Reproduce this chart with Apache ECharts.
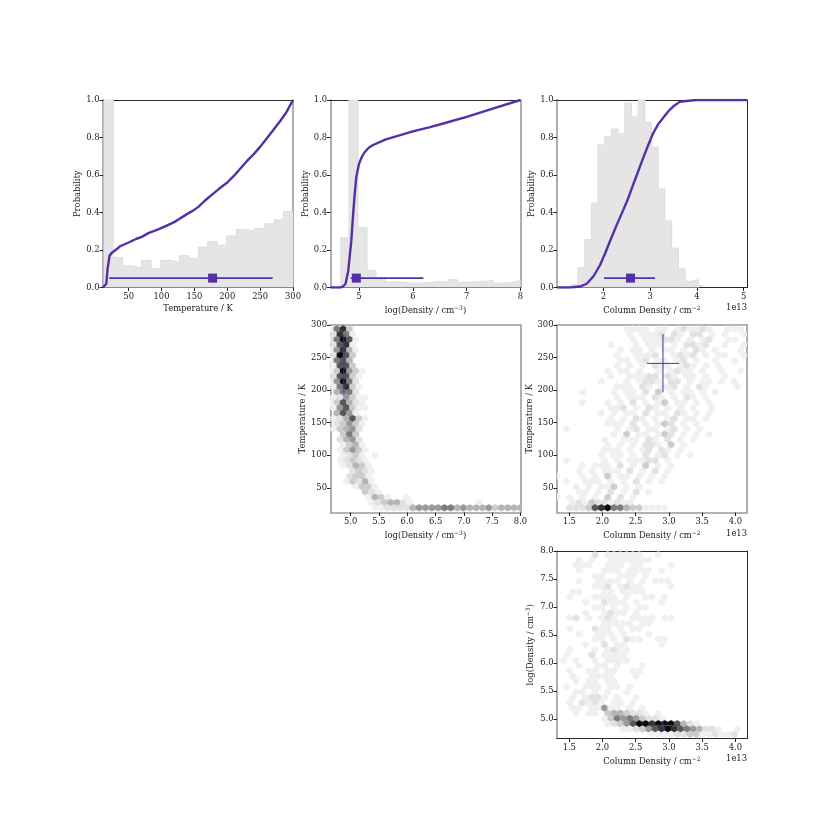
<!DOCTYPE html>
<html>
<head>
<meta charset="utf-8">
<style>
  html, body { margin: 0; padding: 0; background: #fff; }
  #chart { width: 830px; height: 830px; }
</style>
<script src="https://cdn.jsdelivr.net/npm/echarts@6/dist/echarts.min.js"></script>
</head>
<body>
<div id="chart"></div>
<script>
// histogram bin edges and heights (probability axis, first bars run off the top)
const tempEdges = [12, 26.4, 40.8, 55.2, 69.6, 84, 98.4, 112.8, 127.2, 141.6, 156, 170.4, 184.8, 199.2, 213.6, 228, 242.4, 256.8, 271.2, 285.6, 300];
const tempHist = [1.9, 0.16, 0.115, 0.105, 0.145, 0.10, 0.145, 0.135, 0.17, 0.155, 0.215, 0.245, 0.225, 0.275, 0.31, 0.30, 0.315, 0.34, 0.36, 0.405];
const densEdges = [4.645, 4.813, 4.98, 5.148, 5.316, 5.484, 5.651, 5.819, 5.987, 6.155, 6.323, 6.49, 6.658, 6.826, 6.994, 7.161, 7.329, 7.497, 7.665, 7.832, 8];
const densHist = [0.265, 2.6, 0.32, 0.09, 0.045, 0.03, 0.03, 0.022, 0.022, 0.027, 0.033, 0.028, 0.042, 0.028, 0.03, 0.033, 0.037, 0.022, 0.027, 0.037];
const colEdges = [1.315, 1.458, 1.601, 1.744, 1.887, 2.03, 2.173, 2.316, 2.459, 2.602, 2.745, 2.888, 3.031, 3.174, 3.317, 3.46, 3.603, 3.746, 3.889, 4.032, 4.176];
const colHist = [0.015, 0.105, 0.255, 0.45, 0.76, 0.805, 0.845, 0.82, 0.985, 0.91, 1.05, 0.88, 0.75, 0.525, 0.355, 0.21, 0.10, 0.033, 0.042, 0.01];

// cumulative curves [value, probability]
const tempCdf = [[11, 0], [13.3, 0], [16, 0.02], [18, 0.1], [21, 0.17], [24.5, 0.185], [32, 0.205], [37, 0.22], [50, 0.24], [62, 0.26], [70, 0.27], [80, 0.29], [95, 0.31], [108, 0.33], [120, 0.35], [127, 0.365], [138, 0.39], [148, 0.41], [156, 0.43], [165, 0.46], [175, 0.49], [187, 0.525], [200, 0.56], [210, 0.595], [220, 0.635], [230, 0.675], [240, 0.71], [250, 0.75], [260, 0.795], [270, 0.84], [280, 0.885], [290, 0.935], [300, 1]];
const densCdf = [[4.47, 0], [4.65, 0], [4.7, 0.005], [4.75, 0.02], [4.8, 0.09], [4.857, 0.25], [4.89, 0.39], [4.92, 0.5], [4.95, 0.59], [5, 0.66], [5.05, 0.695], [5.1, 0.72], [5.18, 0.745], [5.26, 0.76], [5.5, 0.79], [6, 0.833], [6.32, 0.855], [6.63, 0.88], [7, 0.91], [7.44, 0.95], [8, 1]];
const colCdf = [[1.01, 0], [1.29, 0], [1.5, 0.005], [1.645, 0.02], [1.79, 0.06], [1.93, 0.12], [2.035, 0.18], [2.14, 0.245], [2.28, 0.33], [2.42, 0.41], [2.53, 0.475], [2.64, 0.55], [2.745, 0.62], [2.85, 0.69], [2.96, 0.76], [3.06, 0.82], [3.17, 0.87], [3.28, 0.905], [3.39, 0.94], [3.49, 0.965], [3.63, 0.99], [3.77, 0.995], [3.99, 1], [5.07, 1]];

// median and interval drawn at P = 0.05
const tempSummary = [20.4, 177.7, 269];
const densSummary = [4.845, 4.95, 6.195];
const colSummary = [2.014, 2.58, 3.106];

// best fit crosses: [low, mid, high]
const bestTemp = [196.5, 241, 286];
const bestDens = [4.82, 4.88, 4.935];
const bestCol = [2.67, 2.91, 3.153];

// hexbin shade levels 1-9, top row first, one char per hexagon column
const hexTempDens = [
  '1683', '2861', '26971', '2781', '15841', '2973', '1674', '1773', '139531',
  '27731', '15962', '16831', '.4662', '125311', '137421', '157311', '.4751',
  '124731', '.23531', '13452', '..363', '.2452', '..1341', '.13531', '..1231.1',
  '.12321', '..12431', '...2321', '...2331', '..13241', '....1331', '.....321',
  '......1431..1', '......1234421..........1', '.......112222455556645444534444'
];
const hexTempCol = [
  '...........1111.11.121121..111',
  '...........1.1112.21.22.1.1..1',
  '............1.111221.1.12..11',
  '........1...1.111.1.2212..1..1',
  '..........1.11.1.11.1.21.1...1',
  '.........1..1112..1212.1.11..1',
  '..........11.12.11.12.1..1..1',
  '.........1.1.1.211.121.1.1',
  '........1.11.1..1.1211.1..1..1',
  '........1..11122.21.11.1..1',
  '.......1...1.1221.22.1.11.1.1',
  '.........111.21.112.1.21....1',
  '....1....1.11.2.3.1.11.1.1',
  '.........1.111.21.1.21.1',
  '....1...1.1.2.1.13.11.1.1',
  '........112.1.21.1.1.1..1',
  '.......1.1.11.2.11.21.1.1',
  '........1.1.21.1.12.11.1',
  '........111.2.1.132.1.1',
  '.1.......1.12.11.12.1.1',
  '.........1.3.11.132.1.1.1',
  '.......1..111.21.2.1.1',
  '........1.1.1.221.3.1',
  '.......111.1.12.21.1',
  '.......1.11.1.2.12.1.1',
  '.1.....1.1.11122.1',
  '....1.111.2.1.3.1.1',
  '...1.1.111.2.1.2.1',
  '1...1.1.3.11.1.1.1',
  '.1..111.1.1.2.1.1',
  '...1.1.113.1.1',
  '...11.1.2.1.2.1',
  '1.1.1.1.3.2.1',
  '..1213221211',
  '..2223789664331111'
];
const hexDensCol = [
  '......2.111111..1',
  '...1.1..1111111',
  '...111..111.11....1',
  '...1...111.1111.1',
  '......11..111.1',
  '...1..1111.1.1.111',
  '......112.1211....1',
  '..11...11.1111',
  '..1...1111.1..11.1',
  '....1..2111.1...1',
  '......11.1.1.11',
  '....1..1211.1',
  '..12.1.121..1111.11',
  '.......11111.11',
  '..1...211.1.11',
  '...1..111.1...1',
  '......11.1.211..11',
  '....1..2.11.....1',
  '..1...1.1211',
  '.1...2.1111',
  '.1.1..1.1111',
  '...1..11.1...1',
  '..1..11.11..11',
  '..1..1111...1',
  '...1.11.11',
  '.1..111.11.1',
  '...11.1.1..1',
  '..1.1221.1..1',
  '..1.2121.11.1',
  '..11.11511.1.1',
  '...1.11.3443221.1',
  '.......1365653221',
  '........123579989997421',
  '..........1123578987654221..1',
  '...............11112233112112'
];
const hexGreys = ['#ffffff', '#f0f0f0', '#e2e2e2', '#cccccc', '#b4b4b4', '#999999', '#7c7c7c', '#585858', '#333333', '#0a0a0a'];

// tick labels
const probTicks = [0, 0.2, 0.4, 0.6, 0.8, 1];
const tempTicks = [50, 100, 150, 200, 250, 300];
const densTicks1 = [5, 6, 7, 8];
const colTicks1 = [2, 3, 4, 5];
const densTicks2 = [5, 5.5, 6, 6.5, 7, 7.5, 8];
const colTicks2 = [1.5, 2, 2.5, 3, 3.5, 4];

const tempLabel = 'Temperature / K';
const densLabel = 'log(Density / cm{sup|−3})';
const colLabel = 'Column Density / cm{sup|−2}';
const probLabel = 'Probability';

const PURPLE = '#552fa8';
const FONT = 'DejaVu Serif';
const FS = 8.4;
const DARK = { color: '#2a2a2a', width: 1 };
const GREY = { color: '#9a9a9a', width: 1.6 };

let grids = [], xAxes = [], yAxes = [], series = [];

function valueAxis(dim, grid, range, ticks, digits, name, gap, spineA, spineB) {
  const pos = dim === 'x' ? ['bottom', 'top'] : ['left', 'right'];
  const list = dim === 'x' ? xAxes : yAxes;
  list.push({
    type: 'value', gridIndex: grid, position: pos[0], min: range[0], max: range[1],
    splitLine: { show: false },
    axisLine: { show: true, onZero: false, lineStyle: spineA },
    axisTick: { show: true, length: 3.5, customValues: ticks, lineStyle: { color: '#222', width: 1 } },
    axisLabel: {
      margin: dim === 'x' ? 5 : 3.5, color: '#1a1a1a', fontFamily: FONT, fontSize: FS,
      customValues: ticks, formatter: v => v.toFixed(digits)
    },
    name: name, nameLocation: 'middle', nameGap: gap,
    nameTextStyle: {
      color: '#1a1a1a', fontFamily: FONT, fontSize: FS,
      rich: { sup: { color: '#1a1a1a', fontFamily: FONT, fontSize: 6, padding: [0, 0, 5, 0] } }
    }
  });
  // the opposite spine
  list.push({
    type: 'value', gridIndex: grid, position: pos[1], min: range[0], max: range[1],
    splitLine: { show: false },
    axisLine: { show: true, onZero: false, lineStyle: spineB },
    axisTick: { show: false }, axisLabel: { show: false }
  });
}

function addPanel(left, top, xr, yr, xt, yt, xd, yd, xn, yn, yGap, sp) {
  const g = grids.length;
  grids.push({ left: left, top: top, width: 190, height: 187.5 });
  valueAxis('x', g, xr, xt, xd, xn, 17.5, sp[0], sp[1]);
  valueAxis('y', g, yr, yt, yd, yn, yGap, sp[2], sp[3]);
  return { xAxisIndex: g * 2, yAxisIndex: g * 2 };
}

function addMarginal(ax, edges, hist, cdf, summary) {
  // stepped outline: every bin holds its height up to the next edge
  const steps = hist.map((h, i) => [edges[i], h]);
  steps.push([edges[edges.length - 1], hist[hist.length - 1]]);
  series.push(Object.assign({
    type: 'line', step: 'end', data: steps, symbol: 'none', z: 1, silent: true,
    lineStyle: { color: '#dddddd', width: 1 }, areaStyle: { color: '#e5e5e5', opacity: 1 }
  }, ax));
  series.push(Object.assign({
    type: 'line', data: cdf, symbol: 'none', z: 3, silent: true,
    lineStyle: { color: PURPLE, width: 2.4 }
  }, ax));
  series.push(Object.assign({
    type: 'line', data: [[summary[0], 0.05], [summary[2], 0.05]], symbol: 'none', z: 4, silent: true,
    lineStyle: { color: PURPLE, width: 1.6 }
  }, ax));
  series.push(Object.assign({
    type: 'scatter', data: [[summary[1], 0.05]], symbol: 'rect', symbolSize: 9, z: 5, silent: true,
    itemStyle: { color: PURPLE, opacity: 1 }
  }, ax));
}

// turn the level strings into [x, y, level] using the hexbin lattice of the panel
function hexCells(rows, x0, dx, yTop, dy) {
  const cells = [];
  rows.forEach((row, r) => {
    for (let k = 0; k < row.length; k++) {
      if (row[k] === '.') continue;
      cells.push([x0 + (k + (r % 2 ? 0.5 : 0)) * dx, yTop - r * dy, +row[k]]);
    }
  });
  return cells;
}

function renderHex(params, api) {
  const c = api.coord([api.value(0), api.value(1)]);
  const w = 3.17, h = 3.52;
  const fill = hexGreys[api.value(2)];
  return {
    type: 'polygon',
    shape: { points: [[c[0], c[1] - h], [c[0] + w, c[1] - h / 2], [c[0] + w, c[1] + h / 2], [c[0], c[1] + h], [c[0] - w, c[1] + h / 2], [c[0] - w, c[1] - h / 2]] },
    style: { fill: fill, stroke: fill, lineWidth: 0.3 }
  };
}

function addHexPanel(ax, rows, x0, dx, yTop, dy, xCross, yCross) {
  series.push(Object.assign({
    type: 'custom', data: hexCells(rows, x0, dx, yTop, dy), renderItem: renderHex, clip: true, z: 1, silent: true,
    encode: { x: 0, y: 1 }
  }, ax));
  series.push(Object.assign({
    type: 'line', data: [[xCross[1], yCross[0]], [xCross[1], yCross[2]]], symbol: 'none', z: 3, silent: true,
    lineStyle: { color: PURPLE, width: 1.5, opacity: 0.7 }
  }, ax));
  series.push(Object.assign({
    type: 'line', data: [[xCross[0], yCross[1]], [xCross[2], yCross[1]]], symbol: 'none', z: 3, silent: true,
    lineStyle: { color: PURPLE, width: 1 }
  }, ax));
}

const L = [103, 330.5, 557];
const T = [100, 325, 551];

// top row: marginals
addMarginal(addPanel(L[0], T[0], [11, 300], [0, 1], tempTicks, probTicks, 0, 1, tempLabel, probLabel, 21, [DARK, DARK, GREY, GREY]),
  tempEdges, tempHist, tempCdf, tempSummary);
addMarginal(addPanel(L[1], T[0], [4.47, 8], [0, 1], densTicks1, probTicks, 0, 1, densLabel, probLabel, 21, [DARK, DARK, GREY, GREY]),
  densEdges, densHist, densCdf, densSummary);
addMarginal(addPanel(L[2], T[0], [1.01, 5.07], [0, 1], colTicks1, probTicks, 0, 1, colLabel, probLabel, 21, [DARK, DARK, GREY, DARK]),
  colEdges, colHist, colCdf, colSummary);

// 2d panels
addHexPanel(addPanel(L[1], T[1], [4.645, 8], [12, 300], densTicks2, tempTicks, 1, 0, densLabel, tempLabel, 21, [GREY, GREY, GREY, GREY]),
  hexTempDens, 4.645, 0.1118, 293.9, 8.08, bestDens, bestTemp);
addHexPanel(addPanel(L[2], T[1], [1.315, 4.176], [12, 300], colTicks2, tempTicks, 1, 0, colLabel, tempLabel, 21, [GREY, GREY, GREY, GREY]),
  hexTempCol, 1.315, 0.09537, 293.9, 8.08, bestCol, bestTemp);
addHexPanel(addPanel(L[2], T[2], [1.315, 4.176], [4.647, 8], colTicks2, densTicks2, 1, 1, colLabel, densLabel, 21, [DARK, DARK, GREY, DARK]),
  hexDensCol, 1.315, 0.09537, 7.934, 0.0945, bestCol, bestDens);

// offset label of the column density axes
const offsetText = y => ({
  type: 'text', right: 83, top: y,
  style: { text: '1e13', fill: '#1a1a1a', font: FS + 'px "' + FONT + '"' }
});

const chart = echarts.init(document.getElementById('chart'), null, { renderer: 'canvas' });
chart.setOption({
  animation: false,
  backgroundColor: '#fff',
  grid: grids,
  xAxis: xAxes,
  yAxis: yAxes,
  series: series,
  graphic: [offsetText(304), offsetText(530), offsetText(755)]
});
</script>
</body>
</html>
